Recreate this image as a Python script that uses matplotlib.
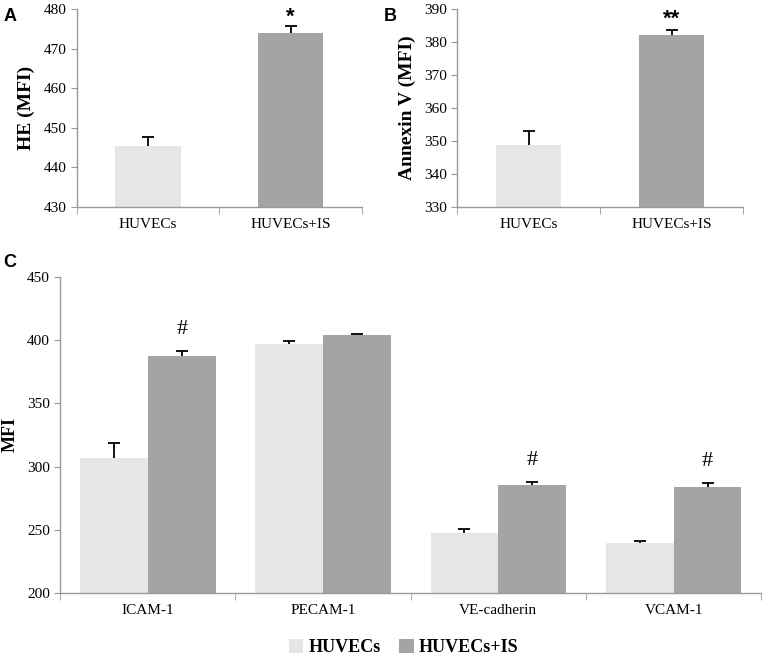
import matplotlib
matplotlib.use("Agg")
import matplotlib.pyplot as plt
import numpy as np
from matplotlib.patches import Patch

SERIF = "Liberation Serif"
SANS = "Liberation Sans"
LIGHT = "#e6e6e6"
DARK = "#a4a4a4"
SPINE = "#999999"

# panel A / B
groups_ab = ["HUVECs", "HUVECs+IS"]
he_mean = [445.3, 474.0]
he_err = [2.3, 1.7]
annex_mean = [348.8, 382.3]
annex_err = [4.2, 1.5]

# panel C
markers = ["ICAM-1", "PECAM-1", "VE-cadherin", "VCAM-1"]
huvec_mean = [306.5, 397.3, 247.6, 239.6]
huvec_err = [11.8, 2.0, 3.2, 1.5]
is_mean = [387.5, 404.2, 285.6, 284.0]
is_err = [4.2, 0.8, 1.8, 3.2]
is_flag = ["#", "", "#", "#"]


def up_err(ax, x, means, errs):
    # one-sided (upward) error bars, no cap at the bar top
    _, caps, _ = ax.errorbar(x, means, yerr=[np.zeros(len(errs)), errs],
                             fmt="none", ecolor="black", elinewidth=1.3,
                             capsize=4.5, capthick=1.3, zorder=3)
    caps[0].set_visible(False)


def style_axes(ax, n):
    for s in ("top", "right"):
        ax.spines[s].set_visible(False)
    for s in ("left", "bottom"):
        ax.spines[s].set_color(SPINE)
        ax.spines[s].set_linewidth(1.0)
    ax.set_xlim(-0.5, n - 0.5)
    ax.set_xticks(np.arange(n))
    ax.set_xticks(np.arange(n + 1) - 0.5, minor=True)
    ax.tick_params(axis="x", which="major", length=0, pad=8)
    ax.tick_params(axis="x", which="minor", length=5, color=SPINE,
                   direction="out")
    ax.tick_params(axis="y", length=4, color=SPINE, direction="out")
    for lab in ax.get_xticklabels() + ax.get_yticklabels():
        lab.set_fontfamily(SERIF)
        lab.set_fontsize(11)


def bar_ab(ax, means, errs, ylim, yticks, ylabel, mark, mark_y):
    x = np.arange(len(means))
    ax.bar(x, means, width=0.46, color=[LIGHT, DARK], zorder=2)
    up_err(ax, x, means, errs)
    ax.set_ylim(*ylim)
    ax.set_yticks(yticks)
    style_axes(ax, len(means))
    ax.set_xticklabels(groups_ab, fontfamily=SERIF, fontsize=11)
    ax.set_ylabel(ylabel, fontfamily=SERIF, fontsize=14, fontweight="bold",
                  labelpad=6)
    ax.text(1, mark_y, mark, ha="center", va="center", fontsize=16,
            fontfamily=SANS, fontweight="bold")


fig = plt.figure(figsize=(7.62, 6.61), dpi=100)

axA = fig.add_axes([0.101, 0.687, 0.374, 0.299])
bar_ab(axA, he_mean, he_err, (430, 480), np.arange(430, 481, 10),
       "HE (MFI)", "*", 478.0)

axB = fig.add_axes([0.600, 0.687, 0.375, 0.299])
bar_ab(axB, annex_mean, annex_err, (330, 390), np.arange(330, 391, 10),
       "Annexin V (MFI)", "**", 387.0)

axC = fig.add_axes([0.079, 0.103, 0.920, 0.478])
x = np.arange(len(markers))
w = 0.387
axC.bar(x - w / 2, huvec_mean, width=w, color=LIGHT, zorder=2)
axC.bar(x + w / 2, is_mean, width=w, color=DARK, zorder=2)
up_err(axC, x - w / 2, huvec_mean, huvec_err)
up_err(axC, x + w / 2, is_mean, is_err)
axC.set_ylim(200, 450)
axC.set_yticks(np.arange(200, 451, 50))
style_axes(axC, len(markers))
axC.set_xticklabels(markers, fontfamily=SERIF, fontsize=11)
axC.set_ylabel("MFI", fontfamily=SERIF, fontsize=13, fontweight="bold",
               labelpad=6)
for xi, m, e, f in zip(x, is_mean, is_err, is_flag):
    if f:
        axC.text(xi + w / 2, m + e + 17, f, ha="center", va="center",
                 fontsize=16, fontfamily=SERIF)

handles = [Patch(facecolor=LIGHT, label="HUVECs"),
           Patch(facecolor=DARK, label="HUVECs+IS")]
fig.legend(handles=handles, loc="center", bbox_to_anchor=(0.53, 0.02),
           ncol=2, frameon=False, handlelength=0.8, handleheight=0.8,
           handletextpad=0.3, columnspacing=1.0,
           prop={"family": SERIF, "size": 13, "weight": "bold"})

fig.text(0.004, 0.975, "A", fontfamily=SANS, fontsize=13, fontweight="bold",
         va="center")
fig.text(0.503, 0.975, "B", fontfamily=SANS, fontsize=13, fontweight="bold",
         va="center")
fig.text(0.004, 0.603, "C", fontfamily=SANS, fontsize=13, fontweight="bold",
         va="center")

fig.savefig("out.png", dpi=100)
